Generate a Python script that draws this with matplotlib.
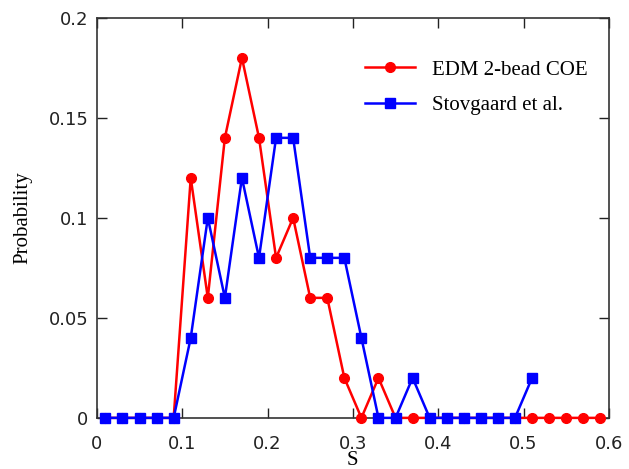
import matplotlib
matplotlib.use('Agg')
from matplotlib import pyplot as plt

s_edm = [0.01, 0.03, 0.05, 0.07, 0.09, 0.11, 0.13, 0.15, 0.17, 0.19, 0.21, 0.23, 0.25, 0.27, 0.29,
         0.31, 0.33, 0.35, 0.37, 0.39, 0.41, 0.43, 0.45, 0.47, 0.49, 0.51, 0.53, 0.55, 0.57, 0.59]
p_edm = [0, 0, 0, 0, 0, 0.12, 0.06, 0.14, 0.18, 0.14, 0.08, 0.10, 0.06, 0.06, 0.02,
         0, 0.02, 0, 0, 0, 0, 0, 0, 0, 0, 0, 0, 0, 0, 0]

s_sto = [0.01, 0.03, 0.05, 0.07, 0.09, 0.11, 0.13, 0.15, 0.17, 0.19, 0.21, 0.23, 0.25, 0.27, 0.29,
         0.31, 0.33, 0.35, 0.37, 0.39, 0.41, 0.43, 0.45, 0.47, 0.49, 0.51]
p_sto = [0, 0, 0, 0, 0, 0.04, 0.10, 0.06, 0.12, 0.08, 0.14, 0.14, 0.08, 0.08, 0.08,
         0.04, 0, 0, 0.02, 0, 0, 0, 0, 0, 0, 0.02]

xticks = [0, 0.1, 0.2, 0.3, 0.4, 0.5, 0.6]
yticks = [0, 0.05, 0.1, 0.15, 0.2]
serif = 'Liberation Serif'

fig = plt.figure(figsize=(6.29, 4.69), dpi=100)
ax = fig.add_axes([0.154, 0.109, 0.814, 0.853])

ax.plot(s_edm, p_edm, color='#ff0000', marker='o', markersize=7, linewidth=1.8,
        label='EDM 2-bead COE', clip_on=False, zorder=3)
ax.plot(s_sto, p_sto, color='#0000ff', marker='s', markersize=7, linewidth=1.8,
        label='Stovgaard et al.', clip_on=False, zorder=4)

ax.set_xlim(0, 0.6)
ax.set_ylim(0, 0.2)
ax.set_xticks(xticks)
ax.set_xticklabels(['0', '0.1', '0.2', '0.3', '0.4', '0.5', '0.6'])
ax.set_yticks(yticks)
ax.set_yticklabels(['0', '0.05', '0.1', '0.15', '0.2'])
ax.tick_params(direction='in', top=True, right=True, length=7, width=1,
               labelsize=13, colors='#222222')
ax.tick_params(axis='x', pad=12)
ax.tick_params(axis='y', pad=6)
for sp in ax.spines.values():
    sp.set_linewidth(1.2)
    sp.set_color('#333333')

ax.set_xlabel('S', fontfamily=serif, fontsize=15, labelpad=-1)
ax.set_ylabel('Probability', fontfamily=serif, fontsize=15, labelpad=12)

ax.legend(loc='upper right', frameon=False, handlelength=2.4,
          prop={'family': serif, 'size': 15}, borderaxespad=0,
          labelspacing=0.75, bbox_to_anchor=(0.975, 0.915))

fig.savefig('out.png', dpi=100)
